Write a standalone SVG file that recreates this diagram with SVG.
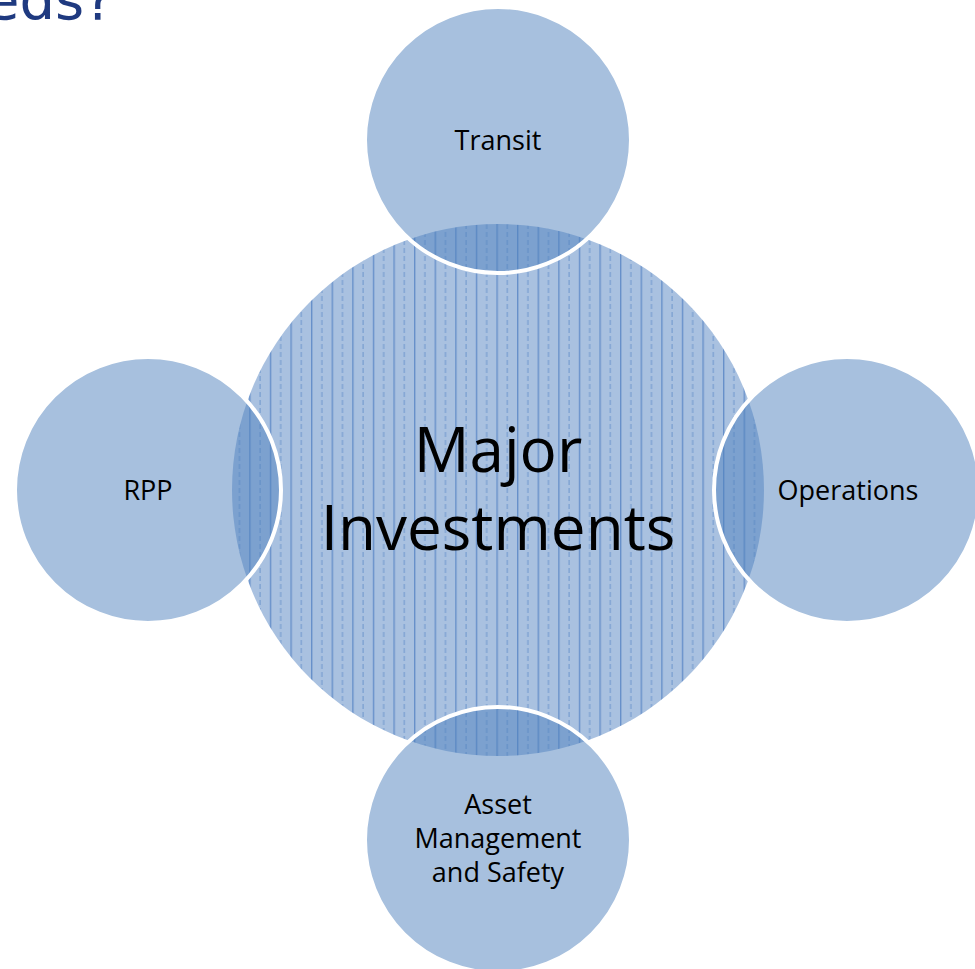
<svg xmlns="http://www.w3.org/2000/svg" width="975" height="969" viewBox="0 0 975 969">
<defs>
<pattern id="stripes" x="2" y="0" width="20.6" height="8" patternUnits="userSpaceOnUse">
<rect width="20.6" height="8" fill="#a9c1e0"/>
<rect x="0" y="0" width="1.4" height="8" fill="#6790ca"/>
<rect x="10.3" y="0" width="1.2" height="5" fill="#789dd0"/>
</pattern>
</defs>
<style>
.sat{fill:#4f81bd;fill-opacity:0.5;stroke:#ffffff;stroke-width:4}
.lbl{font-family:"Open Sans","Noto Sans",sans-serif;font-size:27px;fill:#000;text-anchor:middle}
.big{font-family:"Open Sans","Noto Sans",sans-serif;font-size:62px;fill:#000;text-anchor:middle}
</style>
<rect width="975" height="969" fill="#ffffff"/>
<text x="114" y="19" font-family="DejaVu Sans, sans-serif" font-size="56" fill="#1f3a80" text-anchor="end">eds?</text>
<g id="center">
<circle cx="498" cy="490" r="266" fill="url(#stripes)"/>
<text class="big" x="498" y="472">Major</text>
<text class="big" x="498" y="550">Investments</text>
</g>
<g id="connectors"></g>
<g id="transit">
<circle class="sat" cx="498" cy="140" r="133"/>
<text class="lbl" x="498" y="150">Transit</text>
</g>
<g id="operations">
<circle class="sat" cx="847" cy="490" r="133"/>
<text class="lbl" x="848" y="500">Operations</text>
</g>
<g id="asset">
<circle class="sat" cx="498" cy="840" r="133"/>
<text class="lbl" x="498" y="814">Asset</text>
<text class="lbl" x="498" y="848">Management</text>
<text class="lbl" x="498" y="882">and Safety</text>
</g>
<g id="rpp">
<circle class="sat" cx="148" cy="490" r="133"/>
<text class="lbl" x="148" y="500">RPP</text>
</g>
</svg>
